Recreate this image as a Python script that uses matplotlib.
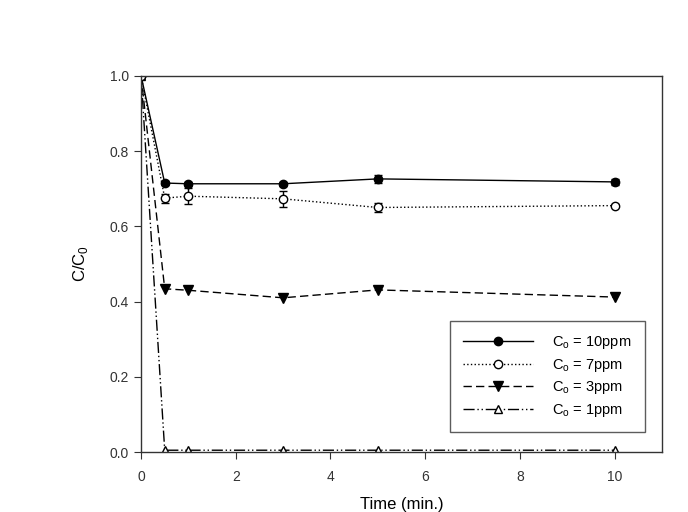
import numpy as np
import matplotlib
matplotlib.use('Agg')
import matplotlib.pyplot as plt
from matplotlib.lines import Line2D

plt.rcParams['font.family'] = ['Liberation Sans', 'DejaVu Sans']

t = [0, 0.5, 1, 3, 5, 10]
c10 = [1.0, 0.715, 0.713, 0.713, 0.726, 0.718]
c10_err = [0, 0.006, 0.006, 0.005, 0.01, 0.008]
c7 = [1.0, 0.675, 0.680, 0.673, 0.650, 0.655]
c7_err = [0, 0.012, 0.022, 0.022, 0.011, 0.005]
c3 = [1.0, 0.434, 0.430, 0.410, 0.431, 0.412]
c1 = [1.0, 0.005, 0.005, 0.005, 0.005, 0.005]
labels = [r'C$_\mathregular{o}$ = 10ppm', r'C$_\mathregular{o}$ = 7ppm',
          r'C$_\mathregular{o}$ = 3ppm', r'C$_\mathregular{o}$ = 1ppm']

fig = plt.figure(figsize=(6.88, 5.12), dpi=100)
ax = fig.add_axes([0.205, 0.117, 0.757, 0.735])

styles = [
    dict(ls='-', marker='o', ms=6, mfc='black'),
    dict(ls=':', marker='o', ms=6, mfc='white'),
    dict(ls=(0, (6, 3)), marker='v', ms=7, mfc='black'),
    dict(ls=(0, (8, 2, 1, 2, 1, 2)), marker='^', ms=6, mfc='white'),
]

ax.errorbar(t, c10, yerr=c10_err, color='black', lw=1, capsize=3, elinewidth=1, **styles[0])
ax.errorbar(t, c7, yerr=c7_err, color='black', lw=1, capsize=3, elinewidth=1, **styles[1])
ax.plot(t, c3, color='black', lw=1, **styles[2])
ax.plot(t, c1, color='black', lw=1, **styles[3])

ax.set_xlim(0, 11)
ax.set_ylim(0, 1.0)
ax.set_xticks([0, 2, 4, 6, 8, 10])
ax.set_yticks([0.0, 0.2, 0.4, 0.6, 0.8, 1.0])
ax.set_yticklabels(['0.0', '0.2', '0.4', '0.6', '0.8', '1.0'])
ax.tick_params(direction='out', length=5, labelsize=10, colors='#333333')
ax.tick_params(axis='x', pad=8)
ax.set_xlabel('Time (min.)', fontsize=12, labelpad=9)
ax.set_ylabel(r'C/C$_\mathregular{0}$', fontsize=12, labelpad=14)
for s in ax.spines.values():
    s.set_linewidth(1)
    s.set_color('#333333')

handles = [Line2D([], [], color='black', lw=1, **st) for st in styles]
leg = ax.legend(handles, labels, loc='lower right', bbox_to_anchor=(0.967, 0.053),
                borderaxespad=0, fancybox=False, edgecolor='#333333', handlelength=4.8,
                fontsize=10.5, borderpad=0.9, labelspacing=0.38, handletextpad=1.3)
leg.get_frame().set_linewidth(1)

fig.savefig('out.png', dpi=100)
